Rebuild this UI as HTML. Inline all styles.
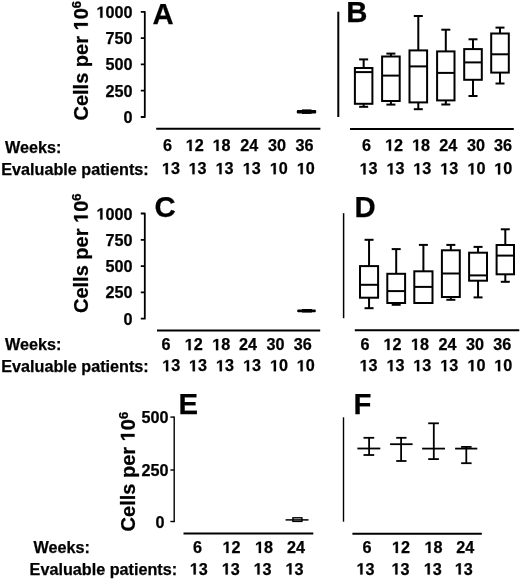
<!DOCTYPE html>
<html><head><meta charset="utf-8"><style>
html,body{margin:0;padding:0;background:#fff;}
svg{display:block;will-change:transform;}
text{font-family:"Liberation Sans", sans-serif;font-weight:bold;fill:#000;stroke:#000;stroke-width:0.25px;}
path{stroke:#000;stroke-width:0.25px;vector-effect:non-scaling-stroke;}
path.ax{fill:none;stroke-linejoin:round;vector-effect:none;}
line,rect{stroke:#000;}
</style></head><body>
<svg width="520" height="579" viewBox="0 0 520 579">
<g transform="translate(87.8,120.5) rotate(-90)">
<text x="0" y="0" font-size="20">Cells per </text>
<path d="M478 0L478 1170L140 959L140 1180L493 1409L759 1409L759 0Z" transform="translate(90.04,0) scale(0.009766,-0.009766)"/>
<text x="101.16" y="0" font-size="20">0</text>
<text x="112.29" y="-6.5" font-size="13">6</text>
</g>
<path class="ax" d="M140.8,11.8H144.8V117H140.8M140.8,38.1H144.8M140.8,64.4H144.8M140.8,90.7H144.8" style="stroke-width:1.8px"/>
<path d="M478 0L478 1170L140 959L140 1180L493 1409L759 1409L759 0Z" transform="translate(96.46,17.8) scale(0.007910,-0.007910)"/>
<text x="105.47" y="17.8" font-size="16.2">0</text>
<text x="114.48" y="17.8" font-size="16.2">0</text>
<text x="123.49" y="17.8" font-size="16.2">0</text>
<text x="105.47" y="44.1" font-size="16.2">7</text>
<text x="114.48" y="44.1" font-size="16.2">5</text>
<text x="123.49" y="44.1" font-size="16.2">0</text>
<text x="105.47" y="70.4" font-size="16.2">5</text>
<text x="114.48" y="70.4" font-size="16.2">0</text>
<text x="123.49" y="70.4" font-size="16.2">0</text>
<text x="105.47" y="96.7" font-size="16.2">2</text>
<text x="114.48" y="96.7" font-size="16.2">5</text>
<text x="123.49" y="96.7" font-size="16.2">0</text>
<text x="123.49" y="123" font-size="16.2">0</text>
<text x="152.5" y="24" font-size="29.3" text-anchor="start" >A</text>
<line x1="156.2" y1="128.8" x2="320.4" y2="128.8" stroke-width="2"/>
<rect x="296.8" y="110" width="19.4" height="3.4" rx="1" fill="#000" style="stroke:none"/><rect x="302" y="109.4" width="9.5" height="4.5" fill="#000" style="stroke:none"/>
<text x="5" y="153.1" font-size="16.2" text-anchor="start" >Weeks:</text>
<text x="1.2" y="175.0" font-size="16.2" text-anchor="start" >Evaluable patients:</text>
<text x="163.00" y="150.9" font-size="16.2">6</text>
<path d="M478 0L478 1170L140 959L140 1180L493 1409L759 1409L759 0Z" transform="translate(185.69,150.9) scale(0.007910,-0.007910)"/>
<text x="194.70" y="150.9" font-size="16.2">2</text>
<path d="M478 0L478 1170L140 959L140 1180L493 1409L759 1409L759 0Z" transform="translate(212.59,150.9) scale(0.007910,-0.007910)"/>
<text x="221.60" y="150.9" font-size="16.2">8</text>
<text x="240.29" y="150.9" font-size="16.2">2</text>
<text x="249.30" y="150.9" font-size="16.2">4</text>
<text x="267.99" y="150.9" font-size="16.2">3</text>
<text x="277.00" y="150.9" font-size="16.2">0</text>
<text x="295.59" y="150.9" font-size="16.2">3</text>
<text x="304.60" y="150.9" font-size="16.2">6</text>
<path d="M478 0L478 1170L140 959L140 1180L493 1409L759 1409L759 0Z" transform="translate(161.89,174.2) scale(0.007910,-0.007910)"/>
<text x="170.90" y="174.2" font-size="16.2">3</text>
<path d="M478 0L478 1170L140 959L140 1180L493 1409L759 1409L759 0Z" transform="translate(188.59,174.2) scale(0.007910,-0.007910)"/>
<text x="197.60" y="174.2" font-size="16.2">3</text>
<path d="M478 0L478 1170L140 959L140 1180L493 1409L759 1409L759 0Z" transform="translate(215.59,174.2) scale(0.007910,-0.007910)"/>
<text x="224.60" y="174.2" font-size="16.2">3</text>
<path d="M478 0L478 1170L140 959L140 1180L493 1409L759 1409L759 0Z" transform="translate(242.69,174.2) scale(0.007910,-0.007910)"/>
<text x="251.70" y="174.2" font-size="16.2">3</text>
<path d="M478 0L478 1170L140 959L140 1180L493 1409L759 1409L759 0Z" transform="translate(269.79,174.2) scale(0.007910,-0.007910)"/>
<text x="278.80" y="174.2" font-size="16.2">0</text>
<path d="M478 0L478 1170L140 959L140 1180L493 1409L759 1409L759 0Z" transform="translate(296.79,174.2) scale(0.007910,-0.007910)"/>
<text x="305.80" y="174.2" font-size="16.2">0</text>
<line x1="338.3" y1="11.7" x2="338.3" y2="117" stroke-width="2"/>
<text x="346.2" y="21.8" font-size="29.3" text-anchor="start" >B</text>
<rect x="354.9" y="68.0" width="17.5" height="35.8" fill="none" stroke-width="2"/>
<line x1="354.9" y1="72.1" x2="372.4" y2="72.1" stroke-width="2"/>
<line x1="363.65" y1="59.4" x2="363.65" y2="68.0" stroke-width="2"/>
<line x1="359.15" y1="59.4" x2="368.15" y2="59.4" stroke-width="2"/>
<line x1="363.65" y1="103.8" x2="363.65" y2="106.8" stroke-width="2"/>
<line x1="359.15" y1="106.8" x2="368.15" y2="106.8" stroke-width="2"/>
<rect x="382.1" y="56.5" width="17.599999999999966" height="44.5" fill="none" stroke-width="2"/>
<line x1="382.1" y1="75.6" x2="399.7" y2="75.6" stroke-width="2"/>
<line x1="390.9" y1="53.6" x2="390.9" y2="56.5" stroke-width="2"/>
<line x1="386.4" y1="53.6" x2="395.4" y2="53.6" stroke-width="2"/>
<line x1="390.9" y1="101.0" x2="390.9" y2="104.6" stroke-width="2"/>
<line x1="386.4" y1="104.6" x2="395.4" y2="104.6" stroke-width="2"/>
<rect x="409.5" y="50.4" width="17.600000000000023" height="52.00000000000001" fill="none" stroke-width="2"/>
<line x1="409.5" y1="66.4" x2="427.1" y2="66.4" stroke-width="2"/>
<line x1="418.3" y1="16" x2="418.3" y2="50.4" stroke-width="2"/>
<line x1="413.8" y1="16" x2="422.8" y2="16" stroke-width="2"/>
<line x1="418.3" y1="102.4" x2="418.3" y2="109.2" stroke-width="2"/>
<line x1="413.8" y1="109.2" x2="422.8" y2="109.2" stroke-width="2"/>
<rect x="437.1" y="51.4" width="17.399999999999977" height="49.00000000000001" fill="none" stroke-width="2"/>
<line x1="437.1" y1="72.9" x2="454.5" y2="72.9" stroke-width="2"/>
<line x1="445.8" y1="29.7" x2="445.8" y2="51.4" stroke-width="2"/>
<line x1="441.3" y1="29.7" x2="450.3" y2="29.7" stroke-width="2"/>
<line x1="445.8" y1="100.4" x2="445.8" y2="104.5" stroke-width="2"/>
<line x1="441.3" y1="104.5" x2="450.3" y2="104.5" stroke-width="2"/>
<rect x="464.2" y="49.1" width="17.600000000000023" height="30.699999999999996" fill="none" stroke-width="2"/>
<line x1="464.2" y1="62.4" x2="481.8" y2="62.4" stroke-width="2"/>
<line x1="473.0" y1="39.3" x2="473.0" y2="49.1" stroke-width="2"/>
<line x1="468.5" y1="39.3" x2="477.5" y2="39.3" stroke-width="2"/>
<line x1="473.0" y1="79.8" x2="473.0" y2="96.0" stroke-width="2"/>
<line x1="468.5" y1="96.0" x2="477.5" y2="96.0" stroke-width="2"/>
<rect x="491.2" y="33.5" width="17.600000000000023" height="39.099999999999994" fill="none" stroke-width="2"/>
<line x1="491.2" y1="54.3" x2="508.8" y2="54.3" stroke-width="2"/>
<line x1="500.0" y1="27.6" x2="500.0" y2="33.5" stroke-width="2"/>
<line x1="495.5" y1="27.6" x2="504.5" y2="27.6" stroke-width="2"/>
<line x1="500.0" y1="72.6" x2="500.0" y2="83.5" stroke-width="2"/>
<line x1="495.5" y1="83.5" x2="504.5" y2="83.5" stroke-width="2"/>
<line x1="350" y1="129.1" x2="513.8" y2="129.1" stroke-width="2"/>
<text x="361.90" y="150.7" font-size="16.2">6</text>
<path d="M478 0L478 1170L140 959L140 1180L493 1409L759 1409L759 0Z" transform="translate(385.09,150.7) scale(0.007910,-0.007910)"/>
<text x="394.10" y="150.7" font-size="16.2">2</text>
<path d="M478 0L478 1170L140 959L140 1180L493 1409L759 1409L759 0Z" transform="translate(412.09,150.7) scale(0.007910,-0.007910)"/>
<text x="421.10" y="150.7" font-size="16.2">8</text>
<text x="439.29" y="150.7" font-size="16.2">2</text>
<text x="448.30" y="150.7" font-size="16.2">4</text>
<text x="466.89" y="150.7" font-size="16.2">3</text>
<text x="475.90" y="150.7" font-size="16.2">0</text>
<text x="493.99" y="150.7" font-size="16.2">3</text>
<text x="503.00" y="150.7" font-size="16.2">6</text>
<path d="M478 0L478 1170L140 959L140 1180L493 1409L759 1409L759 0Z" transform="translate(359.59,174.4) scale(0.007910,-0.007910)"/>
<text x="368.60" y="174.4" font-size="16.2">3</text>
<path d="M478 0L478 1170L140 959L140 1180L493 1409L759 1409L759 0Z" transform="translate(386.49,174.4) scale(0.007910,-0.007910)"/>
<text x="395.50" y="174.4" font-size="16.2">3</text>
<path d="M478 0L478 1170L140 959L140 1180L493 1409L759 1409L759 0Z" transform="translate(413.19,174.4) scale(0.007910,-0.007910)"/>
<text x="422.20" y="174.4" font-size="16.2">3</text>
<path d="M478 0L478 1170L140 959L140 1180L493 1409L759 1409L759 0Z" transform="translate(440.19,174.4) scale(0.007910,-0.007910)"/>
<text x="449.20" y="174.4" font-size="16.2">3</text>
<path d="M478 0L478 1170L140 959L140 1180L493 1409L759 1409L759 0Z" transform="translate(467.39,174.4) scale(0.007910,-0.007910)"/>
<text x="476.40" y="174.4" font-size="16.2">0</text>
<path d="M478 0L478 1170L140 959L140 1180L493 1409L759 1409L759 0Z" transform="translate(494.19,174.4) scale(0.007910,-0.007910)"/>
<text x="503.20" y="174.4" font-size="16.2">0</text>
<g transform="translate(87.8,313) rotate(-90)">
<text x="0" y="0" font-size="20">Cells per </text>
<path d="M478 0L478 1170L140 959L140 1180L493 1409L759 1409L759 0Z" transform="translate(90.04,0) scale(0.009766,-0.009766)"/>
<text x="101.16" y="0" font-size="20">0</text>
<text x="112.29" y="-6.5" font-size="13">6</text>
</g>
<path class="ax" d="M140.8,213.5H144.8V318.7H140.8M140.8,239.8H144.8M140.8,266.1H144.8M140.8,292.4H144.8" style="stroke-width:1.8px"/>
<path d="M478 0L478 1170L140 959L140 1180L493 1409L759 1409L759 0Z" transform="translate(96.46,219.5) scale(0.007910,-0.007910)"/>
<text x="105.47" y="219.5" font-size="16.2">0</text>
<text x="114.48" y="219.5" font-size="16.2">0</text>
<text x="123.49" y="219.5" font-size="16.2">0</text>
<text x="105.47" y="245.8" font-size="16.2">7</text>
<text x="114.48" y="245.8" font-size="16.2">5</text>
<text x="123.49" y="245.8" font-size="16.2">0</text>
<text x="105.47" y="272.1" font-size="16.2">5</text>
<text x="114.48" y="272.1" font-size="16.2">0</text>
<text x="123.49" y="272.1" font-size="16.2">0</text>
<text x="105.47" y="298.4" font-size="16.2">2</text>
<text x="114.48" y="298.4" font-size="16.2">5</text>
<text x="123.49" y="298.4" font-size="16.2">0</text>
<text x="123.49" y="324.7" font-size="16.2">0</text>
<text x="154.5" y="217.1" font-size="29.3" text-anchor="start" >C</text>
<line x1="157" y1="330.6" x2="320.2" y2="330.6" stroke-width="2"/>
<rect x="297.2" y="309.4" width="18.6" height="2.8" rx="1" fill="#000" style="stroke:none"/><rect x="302" y="309" width="10" height="3.5" fill="#000" style="stroke:none"/>
<text x="5" y="349.5" font-size="16.2" text-anchor="start" >Weeks:</text>
<text x="1.2" y="371.9" font-size="16.2" text-anchor="start" >Evaluable patients:</text>
<text x="161.40" y="350.2" font-size="16.2">6</text>
<path d="M478 0L478 1170L140 959L140 1180L493 1409L759 1409L759 0Z" transform="translate(184.69,350.2) scale(0.007910,-0.007910)"/>
<text x="193.70" y="350.2" font-size="16.2">2</text>
<path d="M478 0L478 1170L140 959L140 1180L493 1409L759 1409L759 0Z" transform="translate(212.19,350.2) scale(0.007910,-0.007910)"/>
<text x="221.20" y="350.2" font-size="16.2">8</text>
<text x="238.99" y="350.2" font-size="16.2">2</text>
<text x="248.00" y="350.2" font-size="16.2">4</text>
<text x="266.49" y="350.2" font-size="16.2">3</text>
<text x="275.50" y="350.2" font-size="16.2">0</text>
<text x="293.79" y="350.2" font-size="16.2">3</text>
<text x="302.80" y="350.2" font-size="16.2">6</text>
<path d="M478 0L478 1170L140 959L140 1180L493 1409L759 1409L759 0Z" transform="translate(162.19,371.3) scale(0.007910,-0.007910)"/>
<text x="171.20" y="371.3" font-size="16.2">3</text>
<path d="M478 0L478 1170L140 959L140 1180L493 1409L759 1409L759 0Z" transform="translate(188.89,371.3) scale(0.007910,-0.007910)"/>
<text x="197.90" y="371.3" font-size="16.2">3</text>
<path d="M478 0L478 1170L140 959L140 1180L493 1409L759 1409L759 0Z" transform="translate(215.89,371.3) scale(0.007910,-0.007910)"/>
<text x="224.90" y="371.3" font-size="16.2">3</text>
<path d="M478 0L478 1170L140 959L140 1180L493 1409L759 1409L759 0Z" transform="translate(243.09,371.3) scale(0.007910,-0.007910)"/>
<text x="252.10" y="371.3" font-size="16.2">3</text>
<path d="M478 0L478 1170L140 959L140 1180L493 1409L759 1409L759 0Z" transform="translate(269.99,371.3) scale(0.007910,-0.007910)"/>
<text x="279.00" y="371.3" font-size="16.2">0</text>
<path d="M478 0L478 1170L140 959L140 1180L493 1409L759 1409L759 0Z" transform="translate(296.69,371.3) scale(0.007910,-0.007910)"/>
<text x="305.70" y="371.3" font-size="16.2">0</text>
<line x1="343.6" y1="213.2" x2="343.6" y2="318.2" stroke-width="1.5"/>
<text x="354.6" y="216.6" font-size="29.3" text-anchor="start" >D</text>
<rect x="360.0" y="266.1" width="18.100000000000023" height="31.599999999999966" fill="none" stroke-width="2"/>
<line x1="360.0" y1="284.8" x2="378.1" y2="284.8" stroke-width="2"/>
<line x1="369.05" y1="239.8" x2="369.05" y2="266.1" stroke-width="2"/>
<line x1="364.55" y1="239.8" x2="373.55" y2="239.8" stroke-width="2"/>
<line x1="369.05" y1="297.7" x2="369.05" y2="308.2" stroke-width="2"/>
<line x1="364.55" y1="308.2" x2="373.55" y2="308.2" stroke-width="2"/>
<rect x="387.3" y="273.8" width="17.80000000000001" height="29.19999999999999" fill="none" stroke-width="2"/>
<line x1="387.3" y1="291.1" x2="405.1" y2="291.1" stroke-width="2"/>
<line x1="396.20000000000005" y1="249.1" x2="396.20000000000005" y2="273.8" stroke-width="2"/>
<line x1="391.70000000000005" y1="249.1" x2="400.70000000000005" y2="249.1" stroke-width="2"/>
<line x1="396.20000000000005" y1="303.0" x2="396.20000000000005" y2="304.8" stroke-width="2"/>
<line x1="391.70000000000005" y1="304.8" x2="400.70000000000005" y2="304.8" stroke-width="2"/>
<rect x="414.3" y="271.3" width="18.19999999999999" height="31.69999999999999" fill="none" stroke-width="2"/>
<line x1="414.3" y1="286.9" x2="432.5" y2="286.9" stroke-width="2"/>
<line x1="423.4" y1="244.9" x2="423.4" y2="271.3" stroke-width="2"/>
<line x1="418.9" y1="244.9" x2="427.9" y2="244.9" stroke-width="2"/>
<rect x="441.9" y="250.3" width="17.900000000000034" height="46.69999999999999" fill="none" stroke-width="2"/>
<line x1="441.9" y1="273.5" x2="459.8" y2="273.5" stroke-width="2"/>
<line x1="450.85" y1="244.9" x2="450.85" y2="250.3" stroke-width="2"/>
<line x1="446.35" y1="244.9" x2="455.35" y2="244.9" stroke-width="2"/>
<line x1="450.85" y1="297.0" x2="450.85" y2="299.8" stroke-width="2"/>
<line x1="446.35" y1="299.8" x2="455.35" y2="299.8" stroke-width="2"/>
<rect x="469.1" y="252.7" width="17.899999999999977" height="28.0" fill="none" stroke-width="2"/>
<line x1="469.1" y1="275.4" x2="487.0" y2="275.4" stroke-width="2"/>
<line x1="478.05" y1="246.9" x2="478.05" y2="252.7" stroke-width="2"/>
<line x1="473.55" y1="246.9" x2="482.55" y2="246.9" stroke-width="2"/>
<line x1="478.05" y1="280.7" x2="478.05" y2="297.4" stroke-width="2"/>
<line x1="473.55" y1="297.4" x2="482.55" y2="297.4" stroke-width="2"/>
<rect x="496.6" y="245.0" width="17.399999999999977" height="29.30000000000001" fill="none" stroke-width="2"/>
<line x1="496.6" y1="255.6" x2="514.0" y2="255.6" stroke-width="2"/>
<line x1="505.3" y1="229.3" x2="505.3" y2="245.0" stroke-width="2"/>
<line x1="500.8" y1="229.3" x2="509.8" y2="229.3" stroke-width="2"/>
<line x1="505.3" y1="274.3" x2="505.3" y2="281.8" stroke-width="2"/>
<line x1="500.8" y1="281.8" x2="509.8" y2="281.8" stroke-width="2"/>
<line x1="354.8" y1="330.3" x2="519.3" y2="330.3" stroke-width="2"/>
<text x="360.60" y="349.9" font-size="16.2">6</text>
<path d="M478 0L478 1170L140 959L140 1180L493 1409L759 1409L759 0Z" transform="translate(383.49,349.9) scale(0.007910,-0.007910)"/>
<text x="392.50" y="349.9" font-size="16.2">2</text>
<path d="M478 0L478 1170L140 959L140 1180L493 1409L759 1409L759 0Z" transform="translate(410.89,349.9) scale(0.007910,-0.007910)"/>
<text x="419.90" y="349.9" font-size="16.2">8</text>
<text x="438.49" y="349.9" font-size="16.2">2</text>
<text x="447.50" y="349.9" font-size="16.2">4</text>
<text x="465.99" y="349.9" font-size="16.2">3</text>
<text x="475.00" y="349.9" font-size="16.2">0</text>
<text x="493.29" y="349.9" font-size="16.2">3</text>
<text x="502.30" y="349.9" font-size="16.2">6</text>
<path d="M478 0L478 1170L140 959L140 1180L493 1409L759 1409L759 0Z" transform="translate(359.59,371.2) scale(0.007910,-0.007910)"/>
<text x="368.60" y="371.2" font-size="16.2">3</text>
<path d="M478 0L478 1170L140 959L140 1180L493 1409L759 1409L759 0Z" transform="translate(386.49,371.2) scale(0.007910,-0.007910)"/>
<text x="395.50" y="371.2" font-size="16.2">3</text>
<path d="M478 0L478 1170L140 959L140 1180L493 1409L759 1409L759 0Z" transform="translate(413.19,371.2) scale(0.007910,-0.007910)"/>
<text x="422.20" y="371.2" font-size="16.2">3</text>
<path d="M478 0L478 1170L140 959L140 1180L493 1409L759 1409L759 0Z" transform="translate(440.19,371.2) scale(0.007910,-0.007910)"/>
<text x="449.20" y="371.2" font-size="16.2">3</text>
<path d="M478 0L478 1170L140 959L140 1180L493 1409L759 1409L759 0Z" transform="translate(467.39,371.2) scale(0.007910,-0.007910)"/>
<text x="476.40" y="371.2" font-size="16.2">0</text>
<path d="M478 0L478 1170L140 959L140 1180L493 1409L759 1409L759 0Z" transform="translate(494.19,371.2) scale(0.007910,-0.007910)"/>
<text x="503.20" y="371.2" font-size="16.2">0</text>
<g transform="translate(134.6,531.4) rotate(-90)">
<text x="0" y="0" font-size="20">Cells per </text>
<path d="M478 0L478 1170L140 959L140 1180L493 1409L759 1409L759 0Z" transform="translate(90.04,0) scale(0.009766,-0.009766)"/>
<text x="101.16" y="0" font-size="20">0</text>
<text x="112.29" y="-6.5" font-size="13">6</text>
</g>
<line x1="174.2" y1="416.40000000000003" x2="174.2" y2="522.2" stroke-width="1.4"/>
<line x1="170.4" y1="417.1" x2="174.2" y2="417.1" stroke-width="1.4"/>
<text x="141.47" y="423.3" font-size="16.2">5</text>
<text x="150.48" y="423.3" font-size="16.2">0</text>
<text x="159.49" y="423.3" font-size="16.2">0</text>
<line x1="170.4" y1="470" x2="174.2" y2="470" stroke-width="1.4"/>
<text x="141.47" y="476.2" font-size="16.2">2</text>
<text x="150.48" y="476.2" font-size="16.2">5</text>
<text x="159.49" y="476.2" font-size="16.2">0</text>
<line x1="170.4" y1="521.5" x2="174.2" y2="521.5" stroke-width="1.4"/>
<text x="155.49" y="527.7" font-size="16.2">0</text>
<text x="178.5" y="413.7" font-size="29.3" text-anchor="start" >E</text>
<line x1="183.5" y1="533.6" x2="313.3" y2="533.6" stroke-width="2"/>
<line x1="285.6" y1="519.9" x2="308.5" y2="519.9" stroke-width="1.5"/>
<rect x="292.9" y="517.8" width="9" height="3.6" fill="none" style="stroke-width:1.4px"/>
<text x="33.5" y="552.7" font-size="16.2" text-anchor="start" >Weeks:</text>
<text x="29.6" y="575.1" font-size="16.2" text-anchor="start" >Evaluable patients:</text>
<text x="192.90" y="553" font-size="16.2">6</text>
<path d="M478 0L478 1170L140 959L140 1180L493 1409L759 1409L759 0Z" transform="translate(222.49,553) scale(0.007910,-0.007910)"/>
<text x="231.50" y="553" font-size="16.2">2</text>
<path d="M478 0L478 1170L140 959L140 1180L493 1409L759 1409L759 0Z" transform="translate(254.99,553) scale(0.007910,-0.007910)"/>
<text x="264.00" y="553" font-size="16.2">8</text>
<text x="286.99" y="553" font-size="16.2">2</text>
<text x="296.00" y="553" font-size="16.2">4</text>
<path d="M478 0L478 1170L140 959L140 1180L493 1409L759 1409L759 0Z" transform="translate(189.79,574.5) scale(0.007910,-0.007910)"/>
<text x="198.80" y="574.5" font-size="16.2">3</text>
<path d="M478 0L478 1170L140 959L140 1180L493 1409L759 1409L759 0Z" transform="translate(221.79,574.5) scale(0.007910,-0.007910)"/>
<text x="230.80" y="574.5" font-size="16.2">3</text>
<path d="M478 0L478 1170L140 959L140 1180L493 1409L759 1409L759 0Z" transform="translate(253.59,574.5) scale(0.007910,-0.007910)"/>
<text x="262.60" y="574.5" font-size="16.2">3</text>
<path d="M478 0L478 1170L140 959L140 1180L493 1409L759 1409L759 0Z" transform="translate(285.49,574.5) scale(0.007910,-0.007910)"/>
<text x="294.50" y="574.5" font-size="16.2">3</text>
<line x1="343.5" y1="417.3" x2="343.5" y2="521.7" stroke-width="1.4"/>
<text x="353.6" y="413.8" font-size="29.3" text-anchor="start" >F</text>
<line x1="369.1" y1="437.8" x2="369.1" y2="455" stroke-width="1.8"/>
<line x1="363.5" y1="437.8" x2="374.2" y2="437.8" stroke-width="1.8"/>
<line x1="363.5" y1="455" x2="374.2" y2="455" stroke-width="1.8"/>
<line x1="357.4" y1="448.5" x2="380.3" y2="448.5" stroke-width="1.8"/>
<line x1="401.1" y1="437.8" x2="401.1" y2="461" stroke-width="1.8"/>
<line x1="396.2" y1="437.8" x2="406.5" y2="437.8" stroke-width="1.8"/>
<line x1="396.2" y1="461" x2="406.5" y2="461" stroke-width="1.8"/>
<line x1="390.1" y1="444.2" x2="412.6" y2="444.2" stroke-width="1.8"/>
<line x1="433.8" y1="423.3" x2="433.8" y2="459.1" stroke-width="1.8"/>
<line x1="428.2" y1="423.3" x2="438.9" y2="423.3" stroke-width="1.8"/>
<line x1="428.2" y1="459.1" x2="438.9" y2="459.1" stroke-width="1.8"/>
<line x1="422.1" y1="448.6" x2="445" y2="448.6" stroke-width="1.8"/>
<line x1="466.3" y1="446.9" x2="466.3" y2="463.2" stroke-width="1.8"/>
<line x1="461.1" y1="446.9" x2="471.6" y2="446.9" stroke-width="1.8"/>
<line x1="461.1" y1="463.2" x2="471.6" y2="463.2" stroke-width="1.8"/>
<line x1="455.1" y1="448.6" x2="477.3" y2="448.6" stroke-width="1.8"/>
<line x1="352.4" y1="533.7" x2="481.8" y2="533.7" stroke-width="2"/>
<text x="362.50" y="553" font-size="16.2">6</text>
<path d="M478 0L478 1170L140 959L140 1180L493 1409L759 1409L759 0Z" transform="translate(391.89,553) scale(0.007910,-0.007910)"/>
<text x="400.90" y="553" font-size="16.2">2</text>
<path d="M478 0L478 1170L140 959L140 1180L493 1409L759 1409L759 0Z" transform="translate(424.49,553) scale(0.007910,-0.007910)"/>
<text x="433.50" y="553" font-size="16.2">8</text>
<text x="456.19" y="553" font-size="16.2">2</text>
<text x="465.20" y="553" font-size="16.2">4</text>
<path d="M478 0L478 1170L140 959L140 1180L493 1409L759 1409L759 0Z" transform="translate(356.49,574.5) scale(0.007910,-0.007910)"/>
<text x="365.50" y="574.5" font-size="16.2">3</text>
<path d="M478 0L478 1170L140 959L140 1180L493 1409L759 1409L759 0Z" transform="translate(391.49,574.5) scale(0.007910,-0.007910)"/>
<text x="400.50" y="574.5" font-size="16.2">3</text>
<path d="M478 0L478 1170L140 959L140 1180L493 1409L759 1409L759 0Z" transform="translate(423.79,574.5) scale(0.007910,-0.007910)"/>
<text x="432.80" y="574.5" font-size="16.2">3</text>
<path d="M478 0L478 1170L140 959L140 1180L493 1409L759 1409L759 0Z" transform="translate(454.79,574.5) scale(0.007910,-0.007910)"/>
<text x="463.80" y="574.5" font-size="16.2">3</text>
</svg>
</body></html>
